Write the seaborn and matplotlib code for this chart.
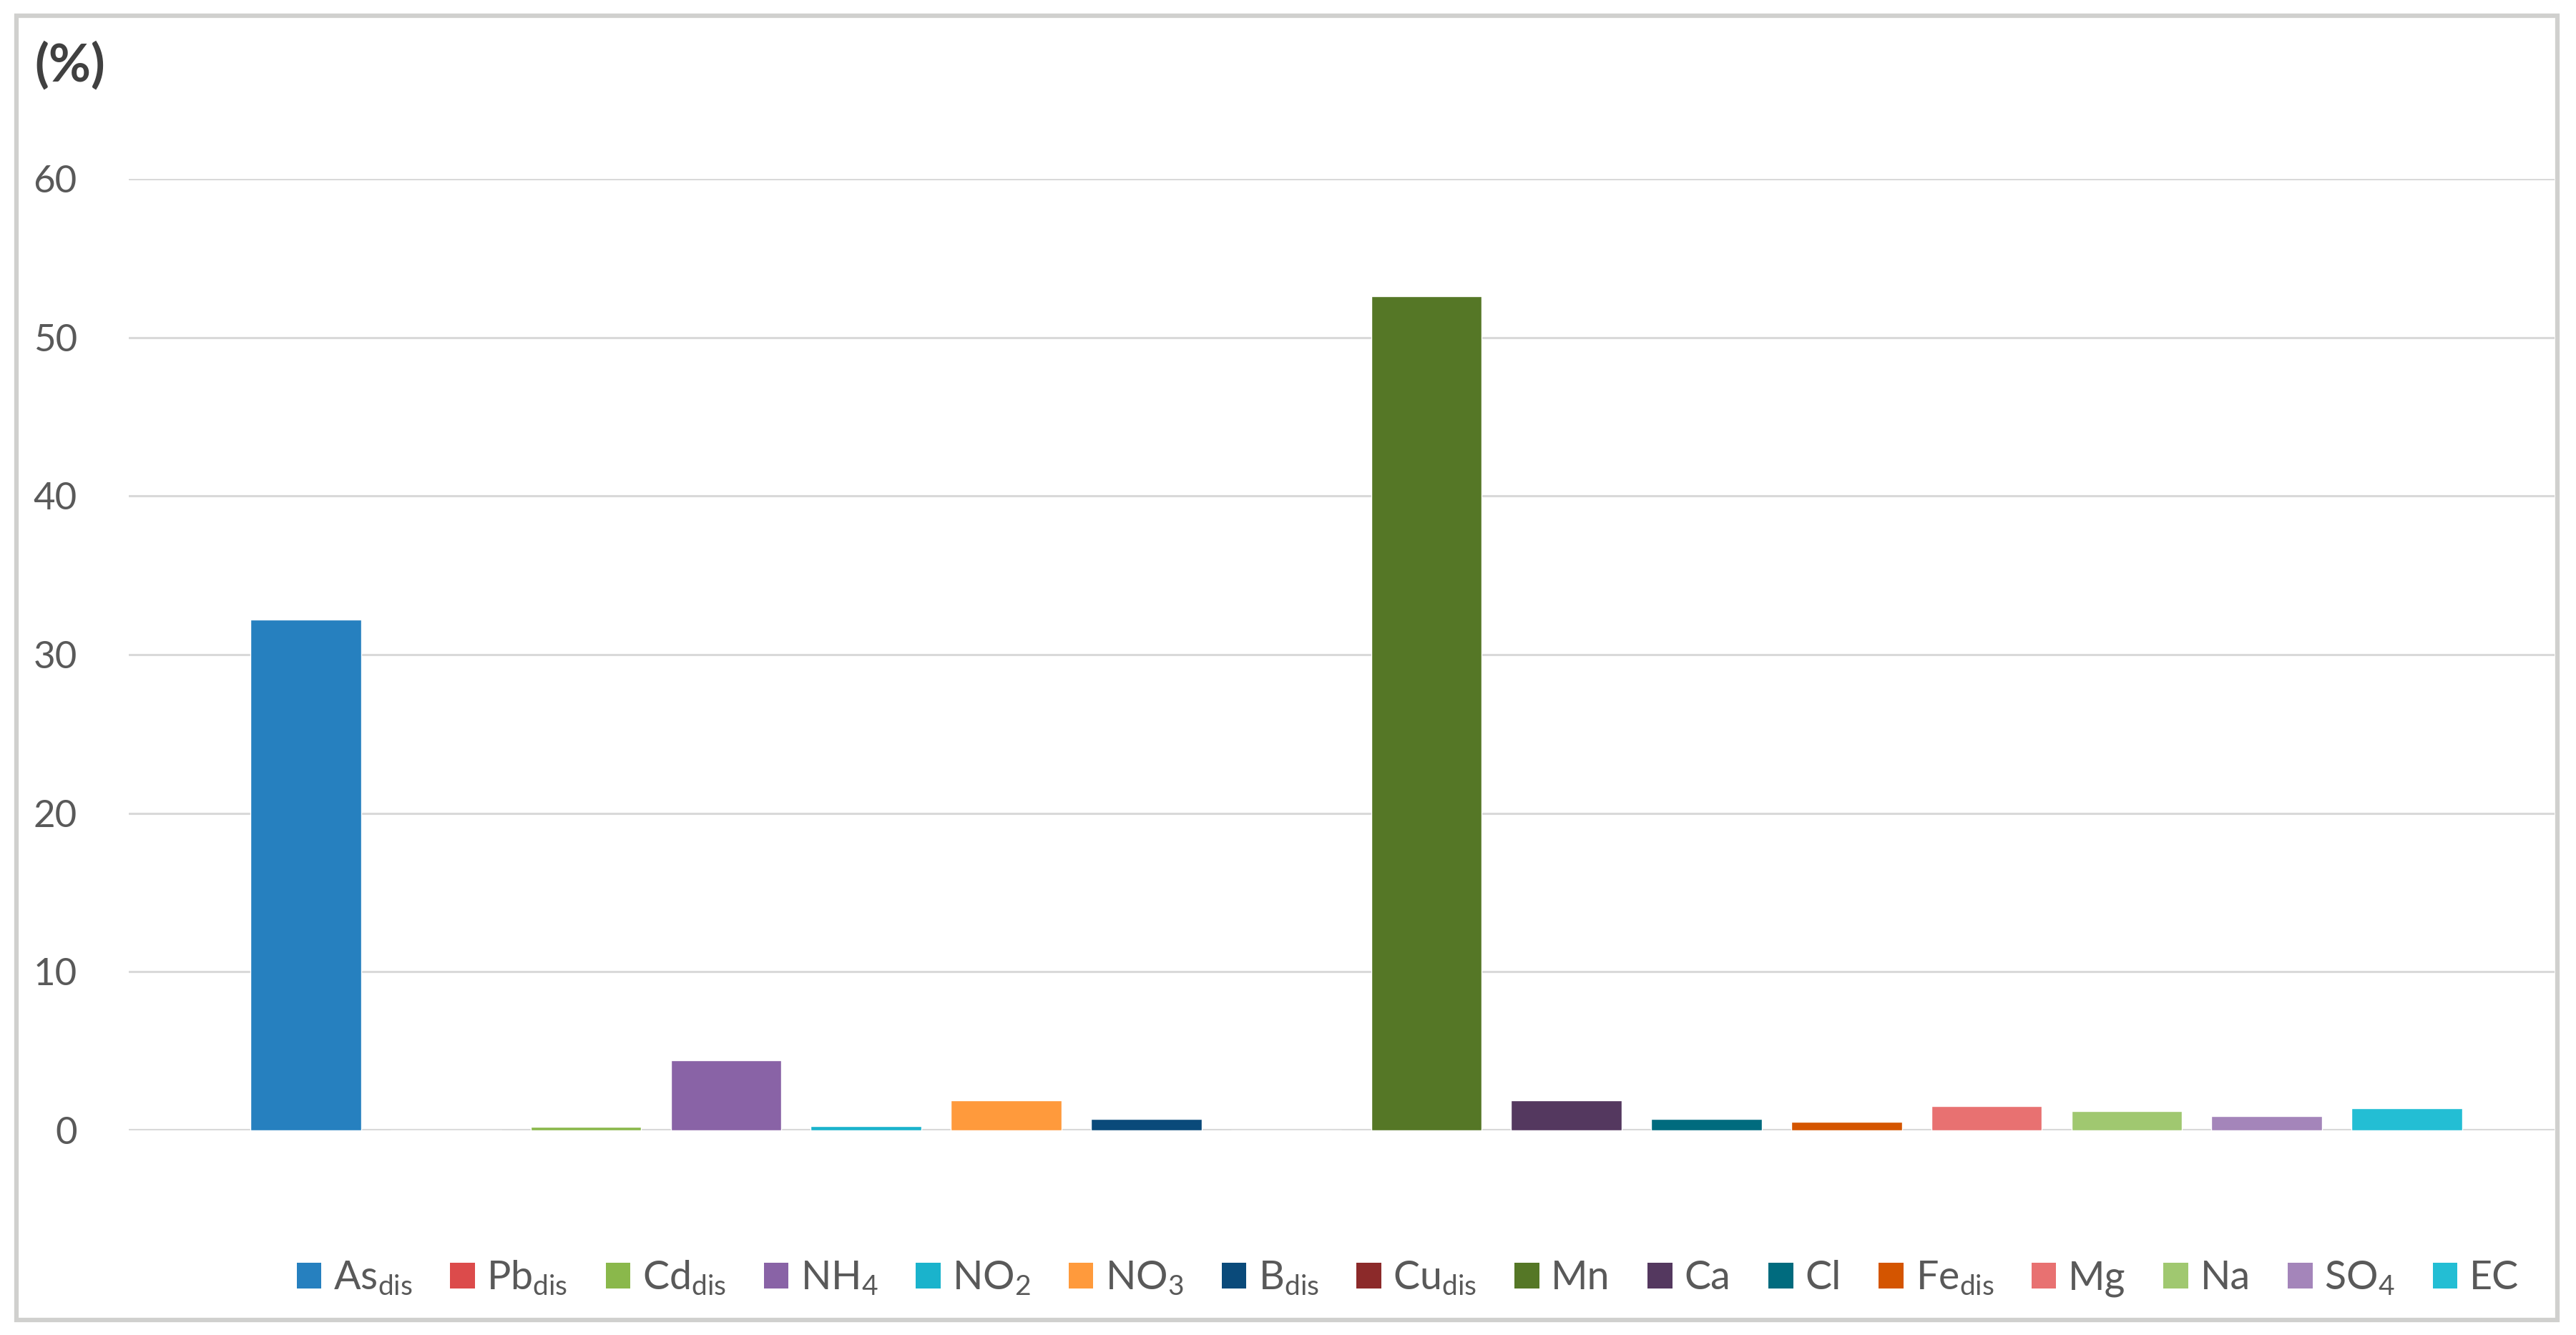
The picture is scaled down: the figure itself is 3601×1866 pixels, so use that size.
import matplotlib
matplotlib.use("Agg")
import matplotlib.pyplot as plt
import seaborn as sns
import pandas as pd
from matplotlib.patches import Patch, Rectangle

# ---- data ----
params = ["As_dis", "Pb_dis", "Cd_dis", "NH4", "NO2", "NO3", "B_dis", "Cu_dis",
          "Mn", "Ca", "Cl", "Fe_dis", "Mg", "Na", "SO4", "EC"]
labels = [r"As$_{\mathrm{dis}}$", r"Pb$_{\mathrm{dis}}$", r"Cd$_{\mathrm{dis}}$",
          r"NH$_{\mathrm{4}}$", r"NO$_{\mathrm{2}}$", r"NO$_{\mathrm{3}}$",
          r"B$_{\mathrm{dis}}$", r"Cu$_{\mathrm{dis}}$", "Mn", "Ca", "Cl",
          r"Fe$_{\mathrm{dis}}$", "Mg", "Na", r"SO$_{\mathrm{4}}$", "EC"]
values = [32.2, 0.0, 0.22, 4.4, 0.25, 1.9, 0.72, 0.0,
          52.6, 1.9, 0.7, 0.55, 1.55, 1.2, 0.9, 1.4]
colors = ["#2680BF", "#DC4B4B", "#8AB84B", "#8963A6", "#1AB3CC", "#FF9A3C",
          "#0A4A7A", "#8C2A2A", "#557726", "#54385F", "#006B7E", "#D45500",
          "#E87171", "#A0C870", "#A485BA", "#23BED4"]
yticks = [0, 10, 20, 30, 40, 50, 60]

sns.set_theme(style="white")
plt.rcParams["font.family"] = ["Lato", "DejaVu Sans"]
plt.rcParams["mathtext.fontset"] = "custom"
plt.rcParams["mathtext.rm"] = "Lato"
plt.rcParams["mathtext.it"] = "Lato:italic"
plt.rcParams["mathtext.bf"] = "Lato:bold"

W, H = 3601, 1866
fig = plt.figure(figsize=(W / 100, H / 100), dpi=100)
fig.patch.set_facecolor("white")

# axes placement (pixels -> fractions)
left_px, right_px, top_px, bottom_px = 180, 3571, 250, 1580
ax = fig.add_axes([left_px / W, 1 - bottom_px / H,
                   (right_px - left_px) / W, (bottom_px - top_px) / H])

df = pd.DataFrame({"param": params, "value": values})
sns.barplot(data=df, x="param", y="value", hue="param", palette=colors,
            order=params, hue_order=params, width=0.79, legend=False,
            saturation=1, ax=ax, zorder=3)

# x range so category centres match the reference
step = 195.8
c0 = 427.5
ax.set_xlim(-(c0 - left_px) / step, (right_px - c0) / step)
ax.set_ylim(0, 60)
ax.set_yticks(yticks)
ax.set_yticklabels([str(t) for t in yticks])
ax.set_xticks([])
ax.set_xlabel("")
ax.set_ylabel("")
for s in ax.spines.values():
    s.set_visible(False)
ax.yaxis.grid(True, color="#D9D9D9", linewidth=2.2, zorder=0)
ax.set_axisbelow(True)
ax.axhline(0, color="#D9D9D9", linewidth=3.0, zorder=2)
ax.tick_params(axis="y", length=0, pad=52, labelsize=38, labelcolor="#595959")

# unit label
fig.text(48 / W, 1 - 58 / H, "(%)", ha="left", va="top", fontsize=52,
         fontweight="bold", color="#404040")

# legend
handles = [Patch(facecolor=c, edgecolor="none") for c in colors]
fig.legend(handles, labels, loc="center", bbox_to_anchor=(1968 / W, 1 - 1786 / H),
           ncol=16, frameon=False, fontsize=40, labelcolor="#595959",
           handlelength=0.62, handleheight=0.62, handletextpad=0.3,
           columnspacing=0.95, borderpad=0, borderaxespad=0)

# figure border
fig.add_artist(Rectangle((23 / W, 21 / H), (3575 - 23) / W, (1844 - 21) / H,
                         transform=fig.transFigure, fill=False,
                         edgecolor="#D0D0CE", linewidth=4.5))

fig.savefig("out.png", dpi=100, facecolor="white")
